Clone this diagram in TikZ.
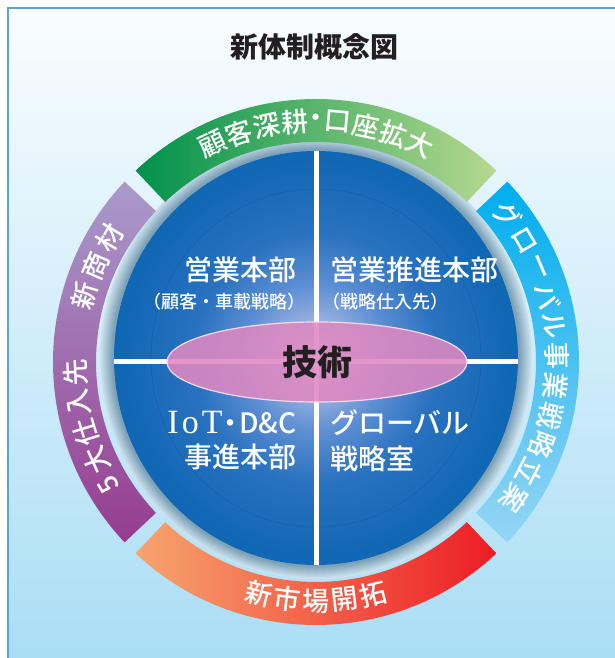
\documentclass[tikz,border=0pt]{standalone}
\usepackage{fontspec}
\setmainfont{Noto Sans CJK JP}
\newfontfamily\jpmed{Noto Sans CJK JP Medium}
\newfontfamily\latinserif{Liberation Serif}
\usetikzlibrary{positioning,shapes.geometric}

\definecolor{framebl}{HTML}{5AA6D2}
\definecolor{bgtop}{HTML}{FAFDFE}
\definecolor{bgbot}{HTML}{A6DCF5}
\definecolor{halolt}{HTML}{CDE3EE}
\definecolor{halodk}{HTML}{7A9EB5}
\definecolor{glowa}{HTML}{C3CFEE}
\definecolor{glowb}{HTML}{9DB4E2}
\definecolor{glowc}{HTML}{5C8ED3}
\definecolor{glowd}{HTML}{2A72C0}
\definecolor{glowe}{HTML}{1067B4}
\definecolor{coreedge}{HTML}{0761AE}
\definecolor{ringbl}{HTML}{0A4F96}
\definecolor{grndk}{HTML}{00914A}
\definecolor{grnlt}{HTML}{B5D98F}
\definecolor{purplt}{HTML}{A99BCB}
\definecolor{purpdk}{HTML}{963C90}
\definecolor{orglt}{HTML}{F7A56E}
\definecolor{reddk}{HTML}{ED1C24}
\definecolor{cyandk}{HTML}{00ADEE}
\definecolor{cyanmd}{HTML}{17B2EE}
\definecolor{cyanlt}{HTML}{95D6F4}
\definecolor{techpink}{HTML}{DE88C2}
\definecolor{techrim}{HTML}{F3D9EA}
\definecolor{inkdk}{HTML}{231F20}

\pgfdeclareradialshading{blueglow}{\pgfpoint{0bp}{0bp}}{color(0bp)=(glowa); color(4bp)=(glowb); color(9bp)=(glowc); color(15bp)=(glowd); color(24bp)=(glowe); color(50bp)=(coreedge)}

\begin{document}
\begin{tikzpicture}[x=1pt,y=1pt,
  unit/.style={text=white,inner sep=0pt,font=\jpmed\fontsize{28}{30}\selectfont},
  subunit/.style={text=white,inner sep=0pt,font=\jpmed\fontsize{18}{20}\selectfont},
  bandchar/.style={text=white,inner sep=0pt,font=\jpmed\fontsize{27}{27}\selectfont},
  divline/.style={white,line width=5pt},
  ringline/.style={ringbl,line width=0.6pt,opacity=0.35},
  techball/.style={ellipse,draw=techrim,line width=1.2pt,fill=techpink,fill opacity=0.88,
    text opacity=1,text=inkdk,minimum width=300pt,minimum height=80pt,
    font=\fontsize{35}{37}\selectfont\bfseries}]
   \useasboundingbox (-316,-296) rectangle (299,362);

   % frame and title
   \shadedraw[top color=bgtop,bottom color=bgbot,draw=framebl,line width=2.5pt]
     (-308,-330) rectangle (330,354);
   \node[text=inkdk,font=\fontsize{28}{30}\selectfont\bfseries] (title) at (-1,315) {新体制概念図};

   % halo and core
   \foreach \k [evaluate=\k as \p using int(\k*8)] in {0,...,12}
     \fill[halodk!\p!halolt] (0,4) ellipse [x radius=216-\k,y radius=221-\k];
   \shade[shading=blueglow] (0,4) ellipse [x radius=202,y radius=207];
   \draw[ringline] (0,4) ellipse [x radius=165,y radius=169];

   \coordinate (ntop) at (0,211);
   \coordinate (nbot) at (0,-203);
   \coordinate (nleft) at (-202,0);
   \coordinate (nright) at (202,0);
   \draw[divline] (ntop) -- (nbot);
   \draw[divline] (nleft) -- (nright);

   % outer bands
   \shade[left color=grndk,right color=grnlt]
     (46.7:263) arc[start angle=46.7,end angle=133.3,radius=263]
     -- (133.3:220) arc[start angle=133.3,end angle=46.7,radius=220] -- cycle;
   \shade[top color=purplt,bottom color=purpdk]
     (136.7:263) arc[start angle=136.7,end angle=223.3,radius=263]
     -- (223.3:220) arc[start angle=223.3,end angle=136.7,radius=220] -- cycle;
   \shade[left color=orglt,right color=reddk]
     (226.7:263) arc[start angle=226.7,end angle=313.3,radius=263]
     -- (313.3:220) arc[start angle=313.3,end angle=226.7,radius=220] -- cycle;
   \shade[top color=cyandk,middle color=cyanmd,bottom color=cyanlt]
     (-43.3:263) arc[start angle=-43.3,end angle=43.3,radius=263]
     -- (43.3:220) arc[start angle=43.3,end angle=-43.3,radius=220] -- cycle;

   % band labels
   \foreach \ch/\ang [count=\i] in {顧/115.5,客/108.7,深/101.9,耕/95.1,・/90,口/84.9,座/78.1,拡/71.3,大/64.5}
     \node[bandchar,rotate=\ang-90] (cust\i) at (\ang:241) {\ch};
   \foreach \ch/\ang [count=\i] in {グ/37.5,ロ/30.3,ー/23.1,バ/15.9,ル/8.7,事/1.5,業/-5.7,戦/-12.9,略/-20.1,立/-27.3,案/-34.5}
     \node[bandchar,rotate=\ang-90] (glob\i) at (\ang:241) {\ch};
   \foreach \ch/\ang [count=\i] in {5/210.5,大/204.2,仕/197,入/189.8,先/182.6}
     \node[bandchar,rotate=\ang-90] (supp\i) at (\ang:241) {\ch};
   \foreach \ch/\ang [count=\i] in {新/164,商/156.5,材/149}
     \node[bandchar,rotate=\ang-90] (prod\i) at (\ang:241) {\ch};
   \foreach \ch/\ang [count=\i] in {新/-103.8,市/-96.9,場/-90,開/-83.1,拓/-76.2}
     \node[bandchar,rotate=\ang+90] (mkt\i) at (\ang:239) {\ch};

   % technology
   \node[techball] (tech) at (1,0) {技術};

   % divisions
   \node[unit,anchor=east] (sales) at (-19,92) {営業本部};
   \node[subunit,below left=10pt and -9pt of sales.south east] (salessub) {（顧客・車載戦略）};
   \node[unit,anchor=west] (promo) at (14,92) {営業推進本部};
   \node[subunit,below right=10pt and -8pt of promo.south west] (promosub) {（戦略仕入先）};
   \node[unit,anchor=east] (iot) at (-19,-61)
     {{\latinserif\fontsize{34}{34}\selectfont I\kern3pt o\kern3pt T}\kern-0.2em・\kern-0.2em D\&C};
   \node[unit,below left=9pt and 0pt of iot.south east] (iotsub) {事進本部};
   \node[unit,anchor=west] (globo) at (14,-61) {グローバル};
   \node[unit,below right=9pt and 0pt of globo.south west] (globosub) {戦略室};
\end{tikzpicture}
\end{document}
